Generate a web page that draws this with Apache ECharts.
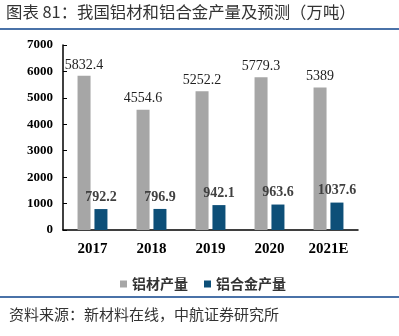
<!DOCTYPE html>
<html><head><meta charset="utf-8">
<script src="https://cdn.jsdelivr.net/npm/echarts@6/dist/echarts.min.js"></script>
<style>html,body{margin:0;padding:0;background:#fff}#c{width:399px;height:336px}</style>
</head><body><div id="c"></div>
<script>
const categories = ['2017', '2018', '2019', '2020', '2021E'];
const aluminumProducts = [5832.4, 4554.6, 5252.2, 5779.3, 5389];
const aluminumAlloy = [792.2, 796.9, 942.1, 963.6, 1037.6];
const seriesNames = ['铝材产量', '铝合金产量'];
const titleText = '图表 81：我国铝材和铝合金产量及预测（万吨）';
const sourceText = '资料来源：新材料在线，中航证券研究所';

const serif = '"Liberation Serif","Times New Roman","Noto Sans CJK SC",serif';
const chart = echarts.init(document.getElementById('c'));
chart.setOption({
  animation: false,
  graphic: [
    {type: 'text', left: 6, top: 4, style: {text: titleText, font: '16.4px "Noto Sans CJK SC"', fill: '#333'}},
    {type: 'rect', shape: {x: 0, y: 28, width: 399, height: 2}, style: {fill: '#4a72a8'}},
    {type: 'rect', shape: {x: 0, y: 296, width: 399, height: 2}, style: {fill: '#4a72a8'}},
    {type: 'text', left: 9, top: 307, style: {text: sourceText, font: '15px "Noto Sans CJK SC"', fill: '#333'}}
  ],
  legend: {
    left: 115, top: 272, itemWidth: 7, itemHeight: 7, itemGap: 16,
    icon: 'rect',
    textStyle: {fontFamily: '"Noto Sans CJK SC"', fontWeight: 'bold', fontSize: 14, color: '#333'},
    data: seriesNames
  },
  grid: {left: 63, right: 41, top: 45, bottom: 106},
  xAxis: {
    type: 'category', data: categories,
    axisLine: {lineStyle: {color: '#000', width: 1.5}},
    axisTick: {show: false},
    axisLabel: {fontFamily: serif, fontWeight: 'bold', fontSize: 15, color: '#000', margin: 12}
  },
  yAxis: {
    type: 'value', min: 0, max: 7000, interval: 1000,
    axisLine: {show: true, lineStyle: {color: '#000', width: 1.5}},
    axisTick: {show: true, inside: true, length: 4, lineStyle: {color: '#000'}},
    splitLine: {show: false},
    axisLabel: {fontFamily: serif, fontWeight: 'bold', fontSize: 13, color: '#000', margin: 10,
      formatter: function (v) { return String(v); }}
  },
  series: [
    {
      name: seriesNames[0], type: 'bar', data: aluminumProducts, barWidth: 13, barGap: '30%',
      itemStyle: {color: '#a6a6a6'},
      label: {show: true, position: 'top', distance: 4, fontFamily: serif, fontSize: 14, color: '#222'}
    },
    {
      name: seriesNames[1], type: 'bar', data: aluminumAlloy, barWidth: 13,
      itemStyle: {color: '#0d4f78'},
      label: {show: true, position: 'top', distance: 5, fontFamily: serif, fontWeight: 'bold', fontSize: 14, color: '#404040'}
    }
  ]
});
</script></body></html>
